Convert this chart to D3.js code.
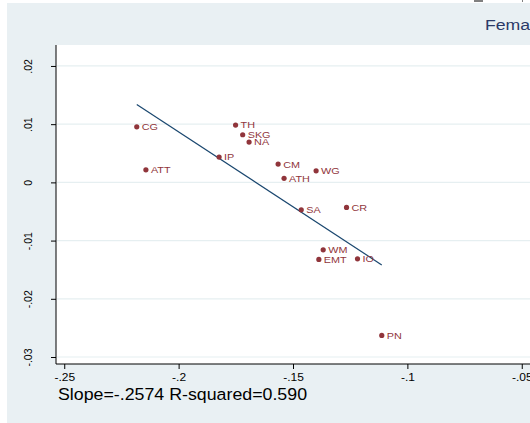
<!DOCTYPE html>
<html>
<head>
<meta charset="utf-8">
<script src="https://cdn.jsdelivr.net/npm/d3@7"></script>
<style>
  body { margin: 0; background: #fff; }
  text { font-family: Arial, "Liberation Sans", sans-serif; }
</style>
</head>
<body>
<svg id="chart" width="530" height="423"></svg>
<script>
// data
const labels = ["CG", "TH", "SKG", "NA", "IP", "ATT", "CM", "WG", "ATH", "SA", "CR", "WM", "EMT", "IO", "PN"];
const xVals = [-0.2183, -0.1751, -0.1720, -0.1692, -0.1823, -0.2143, -0.1565, -0.1399, -0.1539, -0.1464, -0.1266, -0.1368, -0.1387, -0.1218, -0.1112];
const yVals = [0.00955, 0.00985, 0.00818, 0.00692, 0.00435, 0.00216, 0.00314, 0.00199, 0.00069, -0.00471, -0.0043, -0.01158, -0.01323, -0.01313, -0.02629];
const xTicks = [-0.25, -0.2, -0.15, -0.1, -0.05];
const xTickLabels = ["-.25", "-.2", "-.15", "-.1", "-.05"];
const yTicks = [0.02, 0.01, 0, -0.01, -0.02, -0.03];
const yTickLabels = [".02", ".01", "0", "-.01", "-.02", "-.03"];
const slope = -0.2574;
const intercept = -0.0428;
const note = "Slope=-.2574 R-squared=0.590";
const subtitle = "Female";

let svg = d3.select("#chart");

let data = labels.map((l, i) => ({label: l, x: xVals[i], y: yVals[i]}));

// the original text looks a bit stretched sideways
const stretch = 1.14;

// panel background
svg.append("rect")
    .attr("x", 7).attr("y", 3)
    .attr("width", 523).attr("height", 420)
    .attr("fill", "#e9f0f3");

let pLeft = 56, pRight = 530, pTop = 45, pBottom = 364;

let x = d3.scaleLinear().domain([-0.2536, -0.0464]).range([pLeft, pRight]);
let y = d3.scaleLinear().domain([-0.0312, 0.0236]).range([pBottom, pTop]);

// plot region
svg.append("rect")
    .attr("x", pLeft).attr("y", pTop)
    .attr("width", pRight - pLeft).attr("height", pBottom - pTop)
    .attr("fill", "#fff");

// grid
svg.append("g")
    .selectAll("line")
    .data(yTicks)
    .join("line")
    .attr("x1", pLeft + 1).attr("x2", pRight)
    .attr("y1", d => y(d)).attr("y2", d => y(d))
    .attr("stroke", "#e6eff1")
    .attr("stroke-width", 1.2);

// subtitle (cut off at the edge)
svg.append("text")
    .attr("transform", `translate(485,30) scale(${stretch},1)`)
    .attr("font-size", 15.5)
    .attr("fill", "#2b3a67")
    .text(subtitle);

// little marks at the top edge
svg.append("line")
    .attr("x1", 474).attr("x2", 483).attr("y1", 1).attr("y2", 1)
    .attr("stroke", "#000").attr("stroke-width", 1);
svg.append("line")
    .attr("x1", 522).attr("x2", 523).attr("y1", 1).attr("y2", 1)
    .attr("stroke", "#000").attr("stroke-width", 1);

// axes
let yAxis = d3.axisLeft(y)
    .tickValues(yTicks)
    .tickSize(5)
    .tickFormat((d, i) => yTickLabels[i]);

let xAxis = d3.axisBottom(x)
    .tickValues(xTicks)
    .tickSize(5)
    .tickFormat((d, i) => xTickLabels[i]);

let gy = svg.append("g")
    .attr("transform", `translate(${pLeft},0)`)
    .call(yAxis);
gy.select(".domain").attr("d", `M0,${pTop}V${pBottom}`).attr("stroke", "#000");
gy.selectAll(".tick line").attr("stroke", "#000");
gy.selectAll(".tick text")
    .attr("font-size", 10.5)
    .attr("fill", "#000")
    .attr("text-anchor", "middle")
    .attr("x", 0).attr("y", 0).attr("dy", 0)
    .attr("transform", "translate(-24,0) rotate(-90)");

let gx = svg.append("g")
    .attr("transform", `translate(0,${pBottom})`)
    .call(xAxis);
gx.select(".domain").attr("d", `M${pLeft},0H${pRight}`).attr("stroke", "#000");
gx.selectAll(".tick line").attr("stroke", "#000");
gx.selectAll(".tick text")
    .attr("font-size", 10)
    .attr("fill", "#000")
    .attr("x", 0).attr("y", 0).attr("dy", 0)
    .attr("transform", `translate(0,17) scale(${stretch + 0.06},1)`);
svg.selectAll(".domain").attr("fill", "none");

// fitted line
let xr = d3.extent(xVals);
svg.append("line")
    .attr("x1", x(xr[0])).attr("y1", y(intercept + slope * xr[0]))
    .attr("x2", x(xr[1])).attr("y2", y(intercept + slope * xr[1]))
    .attr("stroke", "#1a476f")
    .attr("stroke-width", 1.2);

// points + labels
let pts = svg.append("g");
pts.selectAll("circle")
    .data(data)
    .join("circle")
    .attr("cx", d => x(d.x))
    .attr("cy", d => y(d.y))
    .attr("r", 2.6)
    .attr("fill", "#90353b");

pts.selectAll("text")
    .data(data)
    .join("text")
    .attr("transform", d => `translate(${x(d.x) + 5},${y(d.y) + 3.4}) scale(${stretch},1)`)
    .attr("font-size", 9.5)
    .attr("fill", "#90353b")
    .text(d => d.label);

// note
svg.append("text")
    .attr("transform", `translate(58,400) scale(${stretch},1)`)
    .attr("font-size", 15.6)
    .attr("fill", "#000")
    .text(note);
</script>
</body>
</html>
